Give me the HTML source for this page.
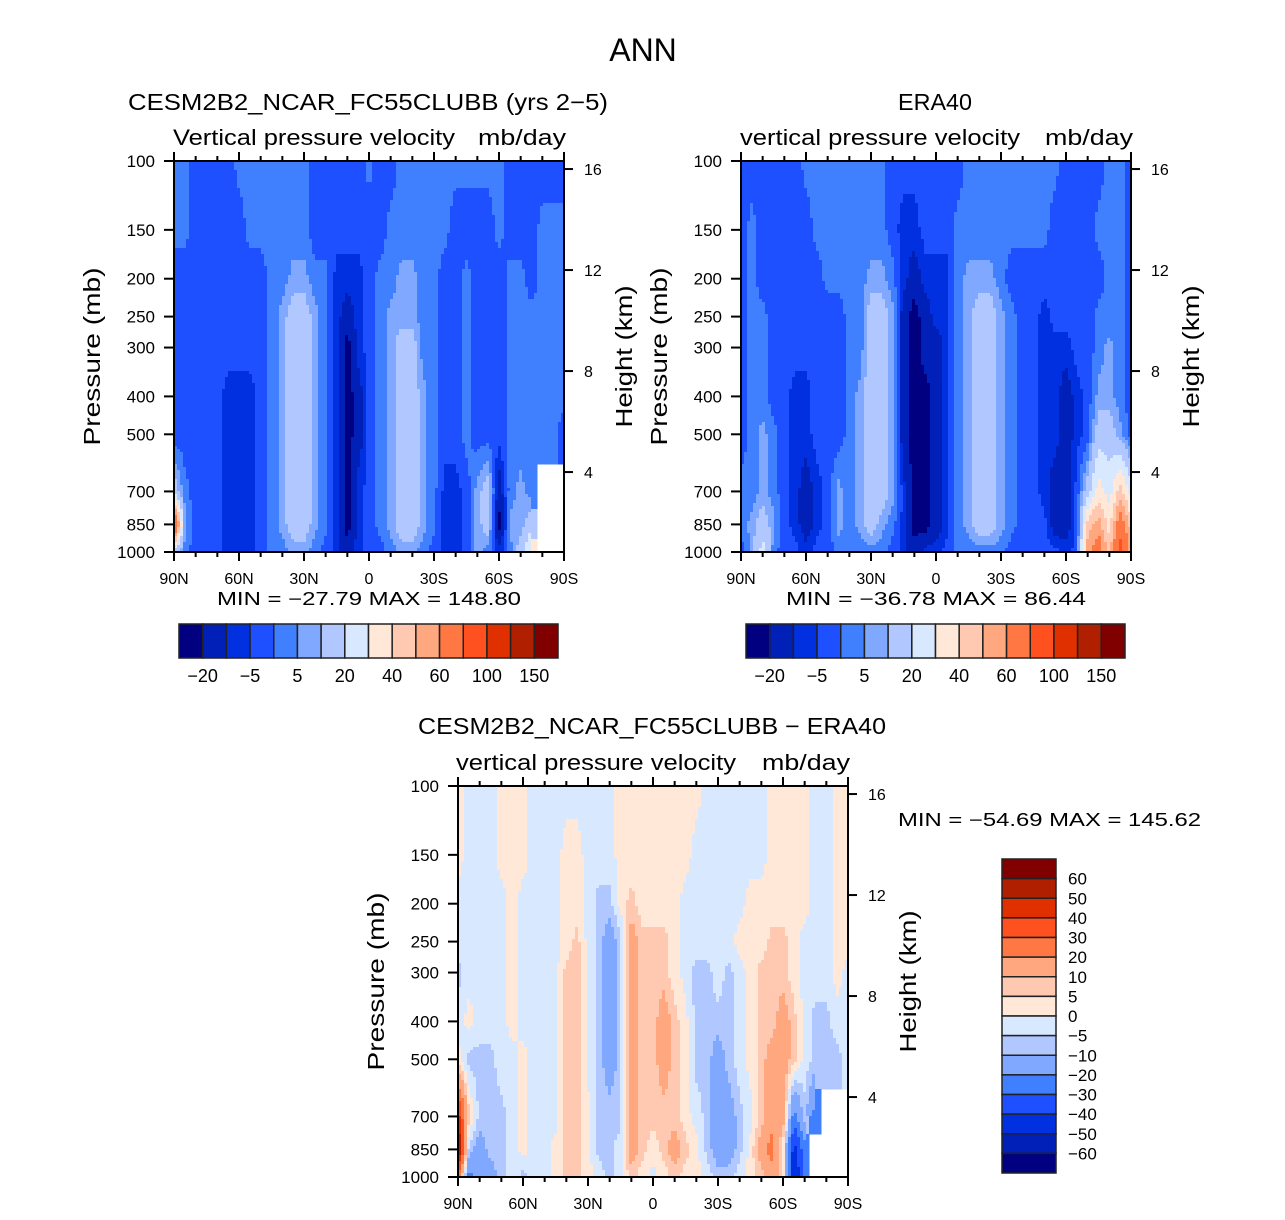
<!DOCTYPE html>
<html><head><meta charset="utf-8"><style>
html,body{margin:0;padding:0;background:#fff;}
svg text{font-family:"Liberation Sans",sans-serif;fill:#000;}
</style></head><body>
<svg id="fig" width="1285" height="1215" viewBox="0 0 1285 1215" xmlns="http://www.w3.org/2000/svg">
<text x="643" y="61" font-size="32" text-anchor="middle">ANN</text>
</svg>
<script>
// ---- data ----
const lats = [90,85,80,75,70,65,60,55,50,45,40,35,30,25,20,15,10,5,0,-5,-10,-15,-20,-25,-30,-35,-40,-45,-50,-55,-60,-65,-70,-75,-80,-85,-90];
const plevs = [100,150,200,250,300,400,500,700,850,1000];
const modelVals = [
[2,2,-3,-3,-3,-3,2,2,2,2,2,2,2,-3,-3,-3,-3,-3,2,-3,-3,2,2,2,2,2,2,2,2,2,2,-3,-3,-3,-3,-3,-3],
[2,2,-3,-3,-3,-3,-3,2,2,2,2,2,2,-3,-3,-3,-3,-3,-3,-3,2,2,2,2,2,2,-3,-3,-3,-3,2,-3,-3,-3,2,2,2],
[-3,-3,-3,-3,-3,-3,-3,-3,-3,2,2,7,7,2,2,-7,-7,-7,-3,2,2,7,7,2,2,-3,-3,2,-3,-3,-3,2,2,-3,2,2,2],
[-3,-3,-3,-3,-3,-3,-3,-3,-3,2,7,15,15,7,2,-7,-15,-7,-3,2,7,7,7,2,2,-3,-3,2,-3,-3,-3,2,2,2,2,2,2],
[-3,-3,-3,-3,-3,-3,-3,-3,-3,2,7,15,15,7,2,-7,-25,-7,-3,2,7,15,15,2,2,-3,-3,2,-3,-3,-3,2,2,2,2,2,2],
[-3,-3,-3,-3,-3,-7,-7,-7,-3,2,7,15,15,7,2,-7,-25,-15,-3,2,7,15,15,7,2,-3,-3,2,-3,-3,-3,2,2,2,2,2,2],
[-3,-3,-3,-3,-3,-7,-7,-7,-3,2,7,15,15,7,2,-7,-25,-15,-3,2,7,15,15,7,2,-3,-3,2,-3,-3,-3,2,2,2,2,2,-3],
[15,2,-3,-3,-3,-7,-7,-7,-3,2,7,15,15,7,2,-7,-25,-7,-3,2,7,15,15,7,2,-7,-7,-3,7,15,-15,2,7,2,null,null,null],
[90,7,-3,-3,-3,-7,-7,-7,-3,2,7,15,15,7,2,-7,-25,-7,-3,2,7,15,15,7,2,-7,-7,-3,7,15,-25,7,7,15,null,null,null],
[15,2,-3,-3,-3,-7,-7,-7,-3,2,2,7,7,2,-3,-7,-15,-7,-3,-3,2,7,7,2,-3,-7,-7,-3,7,2,-7,2,15,35,null,null,null]
];
const obsVals = [
[-3,-3,-3,-3,-3,-3,2,2,2,2,2,2,2,2,-3,-3,-3,-3,-3,-3,-3,2,2,2,2,2,2,2,2,2,-3,-3,-3,-3,2,2,-3],
[-3,2,-3,-3,-3,-3,-3,2,2,2,2,2,2,2,-3,-7,-7,-3,-3,-3,2,2,2,2,2,2,2,2,2,-3,-3,-3,-3,2,2,2,-3],
[-3,2,-3,-3,-3,-3,-3,-3,2,2,2,2,7,7,2,-7,-15,-7,-7,-7,2,7,7,7,2,-3,-3,-3,-3,-3,-3,-3,-3,-3,2,2,-3],
[-3,2,2,-3,-3,-3,-3,-3,-3,-3,2,2,15,15,7,-15,-25,-15,-7,-7,2,7,15,15,7,2,-3,-3,-7,-3,-3,-3,-3,2,2,2,-3],
[-3,2,2,-3,-3,-3,-3,-3,-3,-3,2,2,15,15,7,-15,-25,-15,-15,-7,2,7,15,15,7,2,-3,-3,-7,-7,-7,-3,-3,2,7,2,-3],
[-3,2,2,-3,-3,-7,-7,-3,-3,-3,2,7,15,15,7,-15,-25,-25,-15,-7,2,7,15,15,7,2,-3,-3,-7,-7,-15,-7,-3,7,7,2,-3],
[-3,2,7,2,-3,-7,-7,-3,-3,-3,2,7,15,15,7,-15,-25,-25,-15,-7,2,7,15,15,7,2,-3,-3,-7,-7,-15,-7,-3,15,15,7,-3],
[2,2,7,2,-3,-7,-15,-7,-3,7,2,7,15,15,7,-7,-25,-25,-15,-7,2,7,15,15,7,2,-3,-3,-7,-15,-15,-3,15,35,25,45,25],
[2,7,15,7,-3,-7,-15,-7,-3,7,2,7,15,7,2,-7,-25,-25,-15,-7,2,7,15,15,7,2,-3,-3,-3,-15,-15,-3,45,55,35,70,45],
[-3,7,25,2,-3,-3,-7,-3,-3,2,2,2,2,2,-3,-7,-15,-7,-7,-3,2,2,2,2,2,-3,-3,-3,-3,-3,-7,-3,55,70,45,90,55]
];
const diffVals = [
[2,-2,-2,-2,2,2,2,-2,-2,-2,-2,-2,-2,-2,-2,2,2,2,2,2,2,2,2,-2,-2,-2,-2,-2,-2,2,2,2,2,-2,-2,2,2],
[2,-2,-2,-2,2,2,2,-2,-2,-2,2,2,-2,-2,-2,2,2,2,2,2,2,2,-2,-2,-2,-2,-2,-2,-2,2,2,2,2,-2,-2,2,2],
[-2,-2,-2,-2,-2,2,-2,-2,-2,-2,2,2,-2,-7,-7,2,7,2,2,2,2,-2,-2,-2,-2,-2,-2,2,2,2,2,2,2,-2,-2,2,2],
[-2,-2,-2,-2,-2,2,-2,-2,-2,-2,2,7,-2,-7,-15,-7,15,7,7,7,2,-2,-2,-2,-2,-2,2,2,2,7,7,2,-2,-2,-2,2,2],
[-7,-2,-2,-2,-2,2,-2,-2,-2,-2,7,7,-2,-7,-15,-7,15,7,7,7,2,-2,-7,-7,-2,-7,-2,2,7,7,7,2,-2,-2,-2,2,-2],
[-2,2,-2,-2,-2,2,-2,-2,-2,-2,7,7,-2,-7,-15,-7,15,7,7,15,7,2,-7,-7,-7,-7,-2,2,7,7,15,7,-2,-7,-7,-2,-2],
[2,-7,-7,-7,-2,-2,2,-2,-2,-2,7,7,-2,-7,-15,-7,15,7,7,15,7,2,-7,-7,-15,-7,-2,2,7,15,15,7,-2,-7,-7,-7,-2],
[45,7,-7,-7,-7,-2,2,-2,-2,-2,7,7,2,-7,-7,-7,15,7,7,7,7,2,-2,-7,-15,-15,-7,-2,7,15,15,-25,-7,-25,null,null,null],
[70,-7,-15,-7,-7,-2,2,-2,-2,2,7,7,2,-7,-7,-2,15,7,2,7,15,7,2,-7,-15,-15,-7,2,15,25,2,-45,-25,null,null,null,null],
[25,-25,-15,-15,-7,-2,-7,-2,-2,2,7,7,2,-2,-7,-2,7,2,-2,2,7,2,2,-2,-7,-7,-2,2,7,15,7,-55,-25,null,null,null,null]
];
const absLevels = [-20,-10,-5,0,5,10,20,30,40,50,60,80,100,120,150];
const absTickLabels = ['−20','−5','5','20','40','60','100','150'];
const diffLevels = [-60,-50,-40,-30,-20,-10,-5,0,5,10,20,30,40,50,60];
const diffTickLabels = ['60','50','40','30','20','10','5','0','−5','−10','−20','−30','−40','−50','−60'];
const pTickLabels = ['100','150','200','250','300','400','500','700','850','1000'];
const hTicks = [16,12,8,4];
const latTicks = [90,60,30,0,-30,-60,-90];
const latTickLabels = ['90N','60N','30N','0','30S','60S','90S'];
const colors = ['#000080','#0020b8','#0030e0','#1e50ff','#4080ff','#80a8ff','#b0c8ff','#d8e8ff','#ffe8d8','#ffc8b0','#ffa880','#ff7844','#ff5020','#e03000','#b02000','#800000'];

const NS='http://www.w3.org/2000/svg';
const svg=document.getElementById('fig');
function mk(tag,attrs,parent){const e=document.createElementNS(NS,tag);for(const k in attrs)e.setAttribute(k,attrs[k]);(parent||svg).appendChild(e);return e;}
function colorFor(v,levels){let i=0;while(i<levels.length&&v>=levels[i])i++;return colors[i];}

const W=390,H=391;
const HS=6.725,P0=1132;
const logP=plevs.map(p=>Math.log10(p));
// sample field at fractional lat index fi and log-pressure lp (bilinear, nearest near missing data)
function sample(vals,fi,lp){
  let j=0;while(j<logP.length-2&&lp>logP[j+1])j++;
  let fj=(lp-logP[j])/(logP[j+1]-logP[j]);fj=Math.max(0,Math.min(1,fj));
  let i=Math.floor(fi);if(i>=lats.length-1)i=lats.length-2;if(i<0)i=0;
  let fx=Math.max(0,Math.min(1,fi-i));
  const a=vals[j][i],b=vals[j][i+1],c=vals[j+1][i],d=vals[j+1][i+1];
  if(a===null||b===null||c===null||d===null){
    const ni=fx<0.5?i:i+1,nj=fj<0.5?j:j+1;
    return vals[nj][ni];
  }
  return a*(1-fx)*(1-fj)+b*fx*(1-fj)+c*(1-fx)*fj+d*fx*fj;
}
function drawPanel(ox,oy,vals,levels,name){
  const g=mk('g',{'shape-rendering':'crispEdges'});
  
  
  const xOf=lat=>ox+(90-lat)/180*W;
  const yOf=p=>oy+Math.log10(p/100)*H;
  const step=3;
  for(let py=0;py<H;py+=step){
    const lp=2+(py+step/2)/H;
    let runStart=0,runCol=null;
    for(let px=0;px<=W;px+=step){
      let col=null;
      if(px<W){
        const fi=(px+step/2)/W*36;
        const v=sample(vals,fi,lp);
        col=v===null?'none':colorFor(v,levels);
      }
      if(col!==runCol){
        if(runCol!==null&&runCol!=='none'){
          const r=mk('rect',{x:ox+runStart,y:oy+py,width:Math.min(px,W)-runStart+0.5,height:Math.min(step+0.5,H-py),fill:runCol},g);
          
          
        }
        runStart=px;runCol=col;
      }
    }
  }
  const fr=mk('rect',{x:ox,y:oy,width:W,height:H,fill:'none',stroke:'#000','stroke-width':2});
  
  
  plevs.forEach((p,k)=>{
    const y=yOf(p);
    mk('line',{x1:ox-10,x2:ox,y1:y,y2:y,stroke:'#000','stroke-width':2});
    const t=mk('text',{x:ox-19,y:y+6,'font-size':17,'text-anchor':'end'});
    t.textContent=pTickLabels[k];
    
    
  });
  hTicks.forEach(h=>{
    const p=P0*Math.exp(-h/HS);
    const y=yOf(p);
    mk('line',{x1:ox+W,x2:ox+W+9,y1:y,y2:y,stroke:'#000','stroke-width':2});
    const t=mk('text',{x:ox+W+20,y:y+6,'font-size':16});
    t.textContent=String(h);
    
    
  });
  for(let lat=90;lat>=-90;lat-=10){
    const x=xOf(lat);const major=lat%30===0;
    const L=major?9:5;
    mk('line',{x1:x,x2:x,y1:oy+H,y2:oy+H+L,stroke:'#000','stroke-width':2});
    mk('line',{x1:x,x2:x,y1:oy,y2:oy-L,stroke:'#000','stroke-width':2});
  }
  latTicks.forEach((lat,k)=>{
    const t=mk('text',{x:xOf(lat),y:oy+H+32,'font-size':16,'text-anchor':'middle'});
    t.textContent=latTickLabels[k];
    
    
  });
  let t=mk('text',{transform:`translate(${ox-74},${oy+H/2}) rotate(-90)`,'font-size':23,'text-anchor':'middle',textLength:178,lengthAdjust:'spacingAndGlyphs'});
  t.textContent='Pressure  (mb)';
  
  
  t=mk('text',{transform:`translate(${ox+W+68},${oy+H/2}) rotate(-90)`,'font-size':23,'text-anchor':'middle',textLength:142,lengthAdjust:'spacingAndGlyphs'});
  t.textContent='Height  (km)';
  
  
}
function txt(s,attrs,name){attrs.lengthAdjust='spacingAndGlyphs';const t=mk('text',attrs);t.textContent=s;return t;}

drawPanel(174,161,modelVals,absLevels,'model-panel');
drawPanel(741,161,obsVals,absLevels,'era40-panel');
drawPanel(458,786,diffVals,diffLevels,'difference-panel');

txt('CESM2B2_NCAR_FC55CLUBB (yrs 2−5)',{x:368,y:110,'font-size':23,'text-anchor':'middle',textLength:480},'model-title');
txt('ERA40',{x:935,y:110,'font-size':23,'text-anchor':'middle',textLength:74},'era40-title');
txt('Vertical  pressure  velocity',{x:173,y:145,'font-size':22,textLength:282},'model-subtitle');
txt('mb/day',{x:566,y:145,'font-size':22,'text-anchor':'end',textLength:88},'model-units');
txt('vertical  pressure  velocity',{x:740,y:145,'font-size':22,textLength:280},'era40-subtitle');
txt('mb/day',{x:1133,y:145,'font-size':22,'text-anchor':'end',textLength:88},'era40-units');
txt('CESM2B2_NCAR_FC55CLUBB − ERA40',{x:652,y:734,'font-size':23,'text-anchor':'middle',textLength:468},'difference-title');
txt('vertical  pressure  velocity',{x:456,y:770,'font-size':22,textLength:280},'difference-subtitle');
txt('mb/day',{x:850,y:770,'font-size':22,'text-anchor':'end',textLength:88},'difference-units');
txt('MIN  =  −27.79    MAX  =  148.80',{x:369,y:605,'font-size':18,'text-anchor':'middle','xml:space':'preserve',textLength:304},'model-min-max');
txt('MIN  =  −36.78    MAX  =   86.44',{x:936,y:605,'font-size':18,'text-anchor':'middle','xml:space':'preserve',textLength:300},'era40-min-max');
txt('MIN  =  −54.69    MAX  =  145.62',{x:898,y:826,'font-size':18,'xml:space':'preserve',textLength:303},'difference-min-max');

function hbar(x0,y0,name){
  const bw=379/16;
  for(let k=0;k<16;k++){
    const r=mk('rect',{x:x0+k*bw,y:y0,width:bw,height:34,fill:colors[k],stroke:'#222','stroke-width':1.5});
    
    
  }
  absTickLabels.forEach((s,k)=>{
    const t=mk('text',{x:x0+(2*k+1)*bw,y:y0+58,'font-size':18,'text-anchor':'middle'});
    t.textContent=s;
    
    
  });
}
hbar(179,624,'model-colorbar');
hbar(746,624,'era40-colorbar');
(function(){
  const x0=1002,y0=859,bh=314/16;
  for(let k=0;k<16;k++){
    const r=mk('rect',{x:x0,y:y0+k*bh,width:54,height:bh,fill:colors[15-k],stroke:'#222','stroke-width':1.5});
    
    
  }
  diffTickLabels.forEach((s,k)=>{
    const t=mk('text',{x:1068,y:y0+(k+1)*bh+6,'font-size':17});
    t.textContent=s;
    
    
  });
})();
</script>
</body></html>
